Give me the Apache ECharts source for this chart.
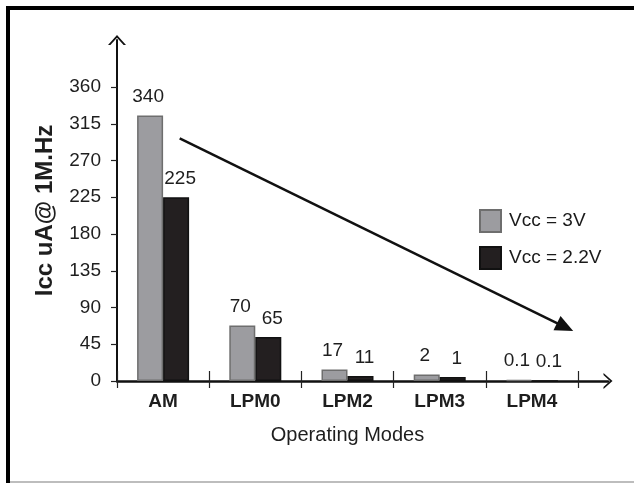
<!DOCTYPE html>
<html>
<head>
<meta charset="utf-8">
<script src="https://cdn.jsdelivr.net/npm/echarts@6/dist/echarts.min.js"></script>
<style>
  html, body { margin: 0; padding: 0; background: #fff; }
  #wrap { position: relative; width: 634px; height: 483px; overflow: hidden; }
  #chart { position: absolute; left: 0; top: 0; width: 634px; height: 483px; }
  .frame { position: absolute; left: 6px; top: 6px; width: 700px; height: 600px;
           border-top: 4px solid #000; border-left: 4px solid #000; pointer-events: none; }
  .bottom-line { position: absolute; left: 10px; right: 0; bottom: 0; height: 2px; background: #bdbdbd; }
</style>
</head>
<body>
<div id="wrap">
  <div id="chart"></div>
  <div class="frame"></div>
  <div class="bottom-line"></div>
</div>
<script>
// categories and series
const categories = ['AM', 'LPM0', 'LPM2', 'LPM3', 'LPM4']
const seriesNames = ['Vcc = 3V', 'Vcc = 2.2V']
// bar heights as drawn in the picture
const vcc3Values = [325, 68, 14, 8, 1.5]
const vcc22Values = [225, 54, 6, 5, 0]
// numbers printed above the bars
const vcc3Labels = ['340', '70', '17', '2', '0.1']
const vcc22Labels = ['225', '65', '11', '1', '0.1']
// y axis ticks
const yMin = 0
const yMax = 360
const yStep = 45
// trend arrow, in category units (x) and uA (y)
const arrowStart = [0.18, 297]
const arrowEnd = [4.36, 66]

const FONT = 'Liberation Sans, Arial, sans-serif'
const chevron = 'path://M9,0 L18,10 L15.6,10 L9,2.8 L2.4,10 L0,10 Z'

// grid 1 holds the bars, grid 2 only the arrowed axis lines
const plotLeft = 117, plotRight = 578, axisRight = 608
const plotTop = 87, axisTop = 40, plotBottom = 381
const x2Max = -0.5 + categories.length * (axisRight - plotLeft) / (plotRight - plotLeft)
const y2Max = yMax * (plotBottom - axisTop) / (plotBottom - plotTop)

let chart = echarts.init(document.getElementById('chart'))

let labelOf = (arr) => (p) => arr[p.dataIndex]

let options = {
  animation: false,
  textStyle: { fontFamily: FONT },
  legend: {
    left: 479,
    top: 209,
    padding: 0,
    orient: 'vertical',
    icon: 'rect',
    itemWidth: 21,
    itemHeight: 22,
    itemGap: 13,
    textStyle: { fontSize: 19, color: '#1a1a1a', fontFamily: FONT, padding: [0, 0, 0, 3] },
    data: seriesNames
  },
  grid: [
    { left: plotLeft, top: plotTop, width: plotRight - plotLeft, height: plotBottom - plotTop },
    { left: plotLeft, top: axisTop, width: axisRight - plotLeft, height: plotBottom - axisTop }
  ],
  xAxis: [
    {
      type: 'category',
      gridIndex: 0,
      data: categories,
      axisLine: { show: false },
      axisTick: { show: true, length: 7, lineStyle: { color: '#222', width: 1.2 } },
      axisLabel: { margin: 11, fontSize: 19, fontWeight: 'bold', color: '#1e1e1e', fontFamily: FONT },
      name: 'Operating Modes',
      nameLocation: 'middle',
      nameGap: 44,
      nameTextStyle: { fontSize: 20, color: '#1e1e1e', fontFamily: FONT }
    },
    {
      type: 'category',
      gridIndex: 0,
      position: 'bottom',
      data: categories,
      axisLine: { show: false },
      axisTick: { show: true, inside: true, length: 10, lineStyle: { color: '#222', width: 1.2 } },
      axisLabel: { show: false }
    },
    {
      type: 'value',
      gridIndex: 1,
      min: -0.5,
      max: x2Max,
      axisLine: { show: true, onZero: false, symbol: ['none', chevron], symbolSize: [20, 9], lineStyle: { color: '#111', width: 2.5 } },
      axisTick: { show: false },
      axisLabel: { show: false },
      splitLine: { show: false }
    }
  ],
  yAxis: [
    {
      type: 'value',
      gridIndex: 0,
      min: yMin,
      max: yMax,
      interval: yStep,
      axisLine: { show: false },
      axisTick: { show: true, length: 6, lineStyle: { color: '#222', width: 1.2 } },
      axisLabel: { margin: 16, fontSize: 19, color: '#1e1e1e', fontFamily: FONT },
      splitLine: { show: false }
    },
    {
      type: 'value',
      gridIndex: 1,
      min: 0,
      max: y2Max,
      axisLine: { show: true, onZero: false, symbol: ['none', chevron], symbolSize: [18, 10], lineStyle: { color: '#111', width: 2 } },
      axisTick: { show: false },
      axisLabel: { show: false },
      splitLine: { show: false },
      name: 'Icc uA@ 1M.Hz',
      nameLocation: 'middle',
      nameGap: 60,
      nameTextStyle: { fontSize: 24, fontWeight: 'bold', color: '#1e1e1e', fontFamily: FONT }
    }
  ],
  series: [
    {
      name: seriesNames[0],
      type: 'bar',
      xAxisIndex: 0,
      yAxisIndex: 0,
      barWidth: 26,
      barGap: '0%',
      data: vcc3Values,
      itemStyle: { color: '#9c9ca0', borderColor: '#6e6e6e', borderWidth: 1.5 },
      label: { show: true, position: 'top', distance: 9, offset: [-2, 0], formatter: labelOf(vcc3Labels),
               fontSize: 19, color: '#1e1e1e', fontFamily: FONT }
    },
    {
      name: seriesNames[1],
      type: 'bar',
      xAxisIndex: 0,
      yAxisIndex: 0,
      barWidth: 26,
      barGap: '0%',
      data: vcc22Values,
      itemStyle: { color: '#231f20', borderColor: '#111', borderWidth: 1.5 },
      label: { show: true, position: 'top', distance: 9, offset: [4, 0], formatter: labelOf(vcc22Labels),
               fontSize: 19, color: '#1e1e1e', fontFamily: FONT }
    },
    {
      name: 'trend',
      type: 'line',
      xAxisIndex: 2,
      yAxisIndex: 1,
      data: [arrowStart, arrowEnd],
      symbol: 'none',
      lineStyle: { width: 0, opacity: 0 },
      silent: true,
      markLine: {
        silent: true,
        symbol: ['none', 'triangle'],
        symbolSize: [16, 18],
        label: { show: false },
        lineStyle: { color: '#111', width: 2.5, type: 'solid' },
        data: [[{ coord: arrowStart }, { coord: arrowEnd }]]
      }
    }
  ]
}
chart.setOption(options)
</script>
</body>
</html>
